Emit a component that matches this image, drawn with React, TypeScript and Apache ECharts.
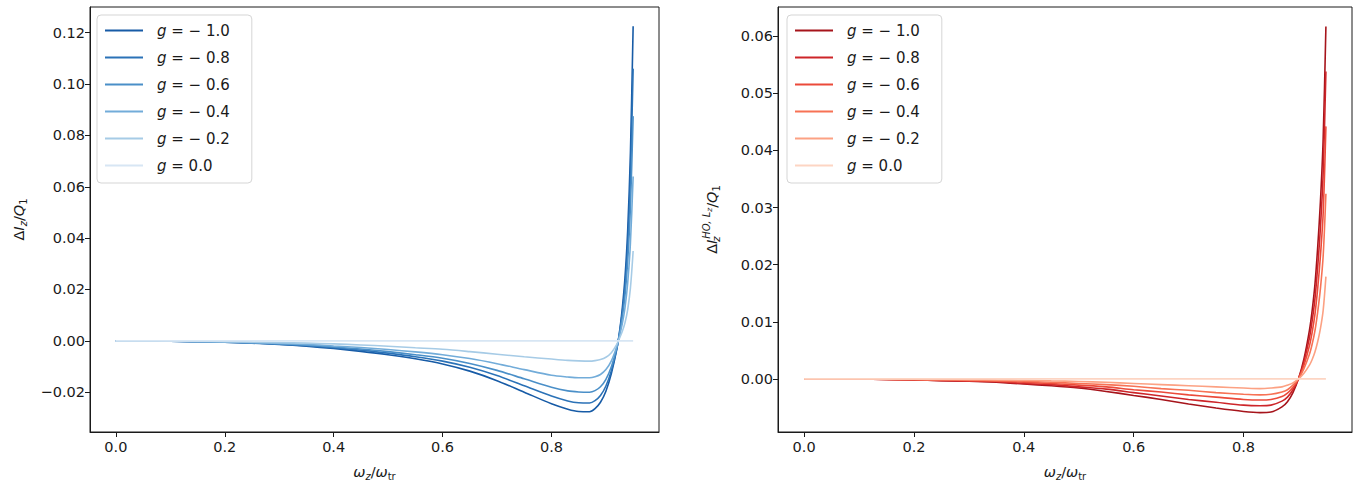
import React, { useEffect, useRef } from "react";
import * as echarts from "echarts";

// omega_z / omega_tr sample positions
const xValues = [0, 0.05, 0.1, 0.15, 0.2, 0.25, 0.3, 0.35, 0.4, 0.45, 0.5, 0.55, 0.6, 0.65, 0.7, 0.75, 0.8, 0.83, 0.85, 0.87, 0.88, 0.89, 0.9, 0.91, 0.92, 0.925, 0.93, 0.935, 0.94, 0.945, 0.95];

const gLabels = ["− 1.0", "− 0.8", "− 0.6", "− 0.4", "− 0.2", "0.0"];
const gEq = [" = ", " = ", " = ", " = ", " = ", " = "];

// Left panel: ΔI_z / Q_1
const leftG10 = [0, -0.00003, -0.0001, -0.0003, -0.0005, -0.0009, -0.0014, -0.0021, -0.003, -0.0041, -0.0054, -0.007, -0.009, -0.0118, -0.0155, -0.02, -0.0245, -0.0266, -0.0275, -0.0276, -0.0264, -0.0239, -0.0196, -0.0127, -0.0032, 0.0035, 0.0125, 0.0245, 0.043, 0.073, 0.1225];
const leftG08 = [0, -0.00003, -0.0001, -0.0003, -0.0005, -0.0008, -0.0013, -0.0019, -0.0027, -0.0036, -0.0048, -0.0062, -0.0079, -0.0103, -0.0135, -0.0175, -0.0215, -0.0234, -0.0241, -0.0242, -0.0233, -0.0213, -0.0176, -0.0116, -0.003, 0.0031, 0.011, 0.021, 0.037, 0.063, 0.106];
const leftG06 = [0, -0.00003, -0.0001, -0.0003, -0.0005, -0.0008, -0.0012, -0.0017, -0.0024, -0.0032, -0.0042, -0.0054, -0.0068, -0.0088, -0.0115, -0.0148, -0.0181, -0.0195, -0.0199, -0.02, -0.0194, -0.0179, -0.015, -0.0101, -0.0027, 0.0026, 0.009, 0.0175, 0.031, 0.052, 0.0875];
const leftG04 = [0, -0.00002, -0.0001, -0.0002, -0.0004, -0.0007, -0.001, -0.0014, -0.002, -0.0026, -0.0034, -0.0043, -0.0054, -0.0069, -0.0089, -0.0112, -0.0134, -0.0141, -0.0144, -0.0144, -0.014, -0.0131, -0.0112, -0.0078, -0.0022, 0.0019, 0.0066, 0.0128, 0.0225, 0.038, 0.064];
const leftG02 = [0, -0.00002, -0.0001, -0.0002, -0.0003, -0.0005, -0.0007, -0.0009, -0.0012, -0.0016, -0.0021, -0.0027, -0.0033, -0.0042, -0.0052, -0.0062, -0.0071, -0.0076, -0.0078, -0.0079, -0.0077, -0.0073, -0.0064, -0.0046, -0.0014, 0.001, 0.0036, 0.007, 0.0122, 0.0205, 0.035];
const leftG00 = [0, 0, 0, 0, 0, 0, 0, 0, 0, 0, 0, 0, 0, 0, 0, 0, 0, 0, 0, 0, 0, 0, 0, 0, 0, 0, 0, 0, 0, 0, 0];

// Right panel: ΔI_z^{HO,Lz} / Q_1
const rightG10 = [0, 0, -0.00003, -0.0001, -0.0002, -0.0003, -0.0004, -0.0006, -0.0009, -0.0012, -0.0016, -0.0022, -0.0029, -0.0036, -0.0044, -0.0051, -0.0057, -0.0059, -0.0058, -0.0049, -0.004, -0.0024, 0, 0.0035, 0.0085, 0.012, 0.0165, 0.023, 0.031, 0.042, 0.0617];
const rightG08 = [0, 0, -0.00003, -0.0001, -0.0002, -0.0003, -0.0004, -0.0005, -0.0008, -0.001, -0.0014, -0.0018, -0.0024, -0.003, -0.0036, -0.0041, -0.0046, -0.0047, -0.0046, -0.0039, -0.0032, -0.0019, 0, 0.003, 0.0072, 0.0102, 0.014, 0.0196, 0.0265, 0.036, 0.0538];
const rightG06 = [0, 0, -0.00002, -0.0001, -0.00015, -0.0002, -0.0003, -0.0004, -0.0006, -0.0008, -0.0011, -0.0014, -0.0019, -0.0023, -0.0028, -0.0032, -0.0036, -0.0037, -0.0036, -0.0031, -0.0025, -0.0015, 0, 0.0024, 0.0058, 0.0082, 0.0113, 0.0158, 0.0215, 0.029, 0.0442];
const rightG04 = [0, 0, -0.00002, -0.00007, -0.0001, -0.00015, -0.0002, -0.0003, -0.0004, -0.0006, -0.0008, -0.001, -0.0013, -0.0017, -0.002, -0.0024, -0.0027, -0.0028, -0.0027, -0.0023, -0.0019, -0.0011, 0, 0.0018, 0.0043, 0.0061, 0.0084, 0.0117, 0.0158, 0.0215, 0.0324];
const rightG02 = [0, 0, -0.00001, -0.00004, -0.00006, -0.0001, -0.00013, -0.0002, -0.00025, -0.00035, -0.00045, -0.0006, -0.0008, -0.001, -0.0012, -0.0014, -0.0016, -0.0017, -0.0016, -0.0014, -0.0011, -0.0007, 0, 0.001, 0.0024, 0.0034, 0.0047, 0.0065, 0.0088, 0.012, 0.0179];
const rightG00 = [0, 0, 0, 0, 0, 0, 0, 0, 0, 0, 0, 0, 0, 0, 0, 0, 0, 0, 0, 0, 0, 0, 0, 0, 0, 0, 0, 0, 0, 0, 0];

const xTicks = [0, 0.2, 0.4, 0.6, 0.8];
const leftYTicks = [-0.02, 0, 0.02, 0.04, 0.06, 0.08, 0.1, 0.12];
const rightYTicks = [0, 0.01, 0.02, 0.03, 0.04, 0.05, 0.06];

const blues = ["#175ba6", "#2b72b7", "#4a8fc8", "#72acd9", "#a6cbe6", "#d7e6f4"];
const reds = ["#a6141b", "#cd2529", "#eb4a3a", "#f77255", "#fca183", "#fdd5c3"];

const FONT = "DejaVu Sans";
const TXT = "#1a1a1a";
const FS = 14.5;

const fmtY = (v: number) => {
  const s = Math.abs(v).toFixed(2);
  return v < -1e-12 ? "−" + s : s;
};

const mathRich = {
  n: { fontFamily: FONT, fontSize: FS, color: TXT },
  i: { fontFamily: FONT, fontSize: FS, fontStyle: "italic", color: TXT },
  sub: { fontFamily: FONT, fontSize: 10, fontStyle: "italic", color: TXT, padding: [9, 0, 0, 0] },
  subz: { fontFamily: FONT, fontSize: 10, fontStyle: "italic", color: TXT, padding: [9, 0, 0, 0], width: 1 },
  subr: { fontFamily: FONT, fontSize: 10, color: TXT, padding: [9, 0, 0, 0] },
  sup: { fontFamily: FONT, fontSize: 10, fontStyle: "italic", color: TXT, padding: [0, 0, 11, 0] },
  supsub: { fontFamily: FONT, fontSize: 7.5, fontStyle: "italic", color: TXT, padding: [0, 0, 5, 0] },
};

const legendRich = {
  i: { fontFamily: FONT, fontSize: 15, fontStyle: "italic", color: TXT, padding: [0, 0, 0, 9] },
  n: { fontFamily: FONT, fontSize: 15, color: TXT },
};

export default function App() {
  const ref = useRef<HTMLDivElement>(null);

  useEffect(() => {
    if (!ref.current) return;
    const chart = echarts.init(ref.current, null, { renderer: "svg" });

    const leftData = [leftG10, leftG08, leftG06, leftG04, leftG02, leftG00];
    const rightData = [rightG10, rightG08, rightG06, rightG04, rightG02, rightG00];
    const leftNames = gLabels.map((g) => "L" + g);
    const rightNames = gLabels.map((g) => "R" + g);

    const mkSeries = (data: number[][], names: string[], colors: string[], idx: number) =>
      data.map((ys, k) => ({
        type: "line",
        name: names[k],
        xAxisIndex: idx,
        yAxisIndex: idx,
        data: xValues.map((x, j) => [x, ys[j]]),
        showSymbol: false,
        symbol: "none",
        smooth: 0.3,
        lineStyle: { width: 1.6, color: colors[k] },
        itemStyle: { color: colors[k] },
      }));

    const legendFmt = (name: string) => {
      const k = gLabels.indexOf(name.slice(1));
      return "{i|g}{n|" + gEq[k] + gLabels[k] + "}";
    };

    const mkLegend = (names: string[], left: number) => ({
      data: names,
      left,
      top: 15,
      orient: "vertical",
      icon: "rect",
      itemWidth: 38,
      itemHeight: 2,
      itemGap: 10,
      padding: [7, 22, 9, 8],
      borderColor: "#d5d5d5",
      borderWidth: 1,
      borderRadius: 4,
      backgroundColor: "rgba(255,255,255,0.8)",
      selectedMode: false,
      formatter: legendFmt,
      textStyle: { fontFamily: FONT, fontSize: 15, color: TXT, lineHeight: 17, rich: legendRich },
    });

    const mkX = (idx: number) => ({
      type: "value",
      gridIndex: idx,
      min: -0.0475,
      max: 0.9975,
      name: "{i|ω}{sub|z}{n|/}{i|ω}{subr|tr}",
      nameLocation: "middle",
      nameGap: 30,
      nameTextStyle: { rich: mathRich },
      axisLine: { show: true, onZero: false, lineStyle: { color: TXT, width: 1 } },
      axisTick: { show: true, length: 5, customValues: xTicks, lineStyle: { color: TXT } },
      axisLabel: {
        customValues: xTicks,
        formatter: (v: number) => v.toFixed(1),
        fontFamily: FONT,
        fontSize: FS,
        color: TXT,
        margin: 7,
      },
      splitLine: { show: false },
    });

    const mkY = (idx: number, min: number, max: number, ticks: number[], name: string, gap: number) => ({
      type: "value",
      gridIndex: idx,
      min,
      max,
      name,
      nameLocation: "middle",
      nameRotate: 90,
      nameGap: gap,
      nameTextStyle: { rich: mathRich },
      axisLine: { show: true, onZero: false, lineStyle: { color: TXT, width: 1 } },
      axisTick: { show: true, length: 5, customValues: ticks, lineStyle: { color: TXT } },
      axisLabel: {
        customValues: ticks,
        formatter: fmtY,
        fontFamily: FONT,
        fontSize: FS,
        color: TXT,
        margin: 5,
      },
      splitLine: { show: false },
    });

    chart.setOption({
      animation: false,
      backgroundColor: "#fff",
      grid: [
        { left: 90, top: 7, width: 569, height: 425, show: true, borderColor: TXT, borderWidth: 1, backgroundColor: "transparent" },
        { left: 778, top: 7, width: 574, height: 425, show: true, borderColor: TXT, borderWidth: 1, backgroundColor: "transparent" },
      ],
      legend: [mkLegend(leftNames, 97), mkLegend(rightNames, 787)],
      xAxis: [mkX(0), mkX(1)],
      yAxis: [
        mkY(0, -0.0355, 0.13, leftYTicks, "{n|Δ}{i|I}{sub|z}{n|/}{i|Q}{subr|1}", 62),
        mkY(1, -0.0093, 0.0651, rightYTicks, "{n|Δ}{i|I}{subz|z}{sup|HO, L}{supsub|z}{n|/}{i|Q}{subr|1}", 56),
      ],
      series: [...mkSeries(leftData, leftNames, blues, 0), ...mkSeries(rightData, rightNames, reds, 1)],
    });

    return () => chart.dispose();
  }, []);

  return (
    <div
      ref={ref}
      style={{ position: "fixed", left: 0, top: 0, width: 1365, height: 491, background: "#fff" }}
    />
  );
}
